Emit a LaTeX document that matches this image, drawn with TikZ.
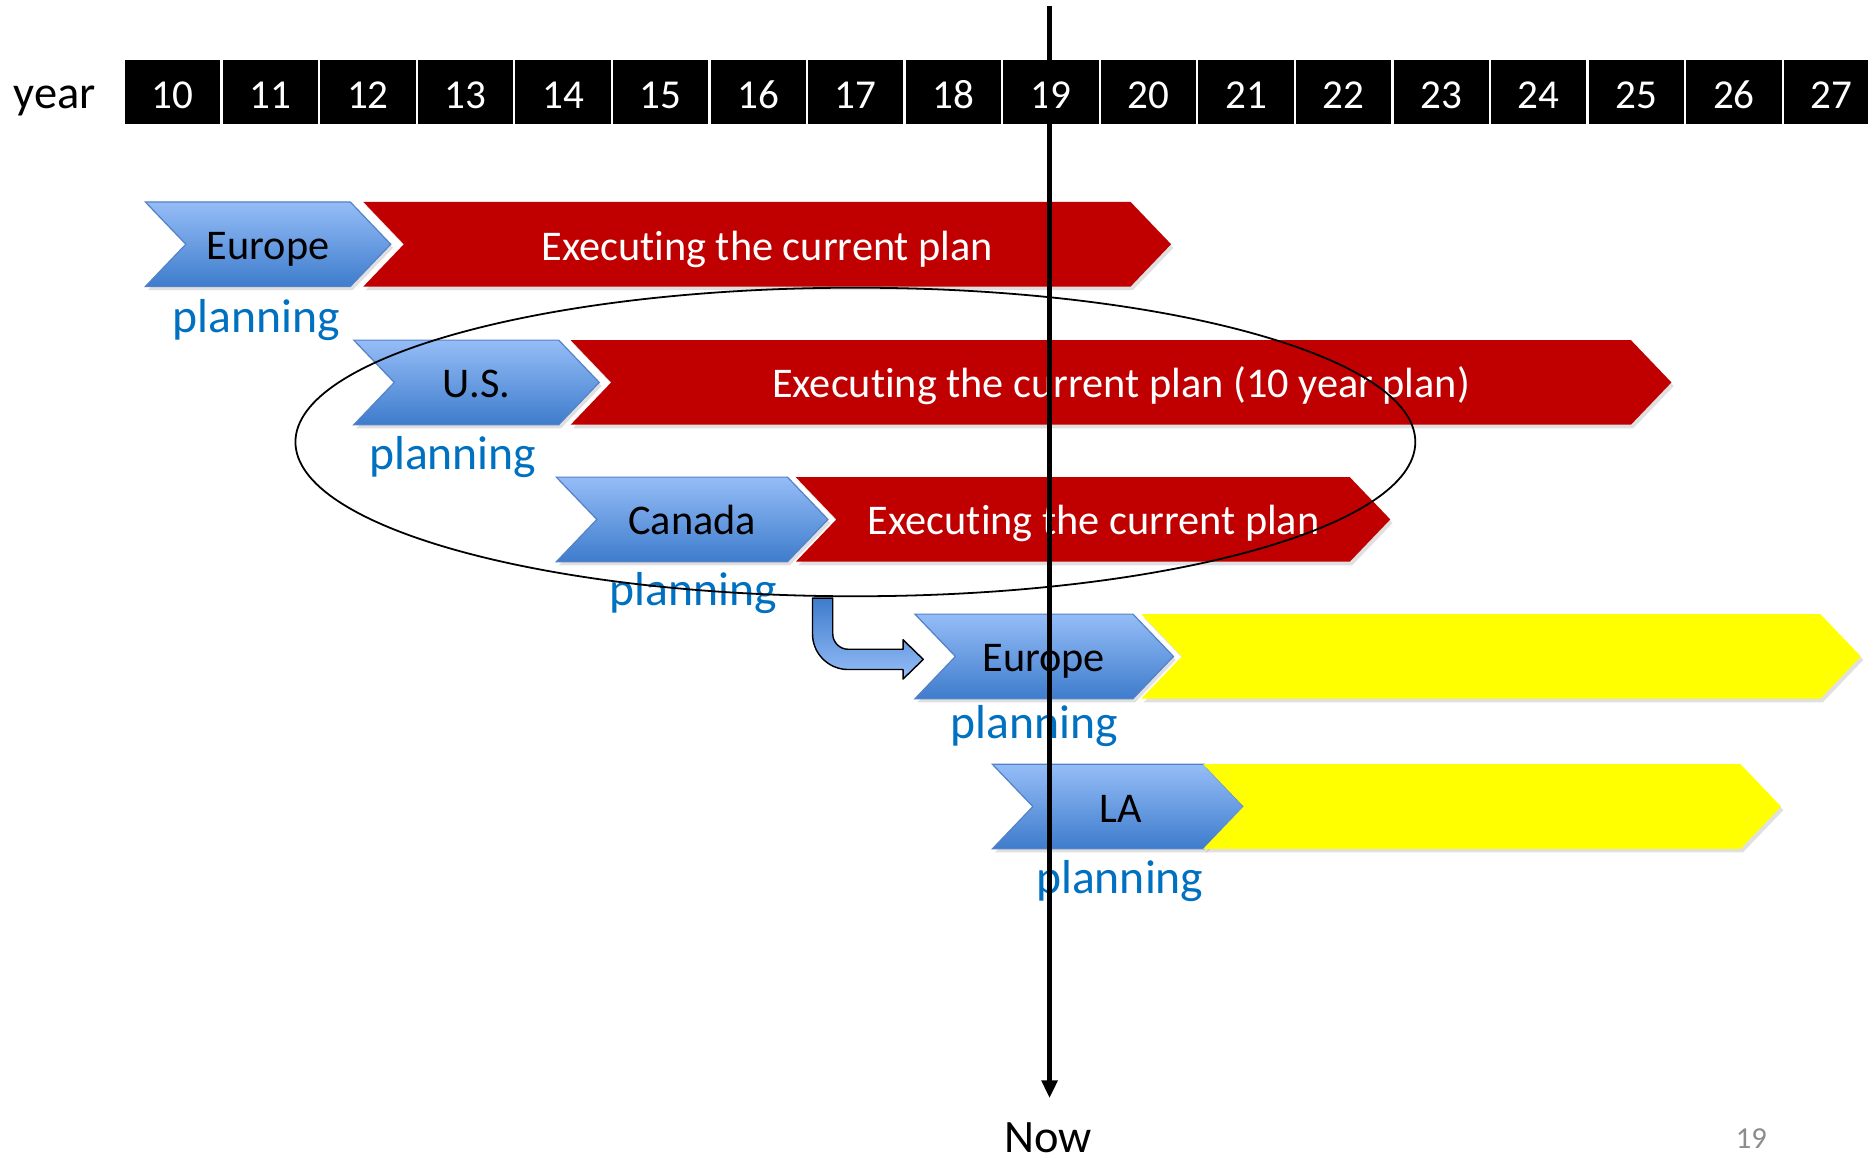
\documentclass[tikz,border=0pt]{standalone}
\usepackage{fontspec}
\setmainfont{Carlito}[Ligatures=CommonOff]
\usetikzlibrary{arrows.meta,shapes.geometric}
\definecolor{chevred}{RGB}{192,0,0}
\definecolor{chevyel}{RGB}{255,255,0}
\definecolor{bluetop}{RGB}{149,189,247}
\definecolor{bluebot}{RGB}{62,124,204}
\definecolor{blueedge}{RGB}{84,130,200}
\definecolor{planblue}{RGB}{0,112,192}
\definecolor{pagegray}{RGB}{140,140,140}
% #1 style, #2 left x, #3 tip x, #4 centre y
\newcommand\chevshape[4]{%
  \begin{scope}[shift={(2,3)}]
    \fill[black,opacity=0.12] (#2,#4-35.5) -- (#3-34,#4-35.5) -- (#3,#4) -- (#3-34,#4+35.5) -- (#2,#4+35.5) -- (#2+34,#4) -- cycle;
  \end{scope}
  \path[#1] (#2,#4-35.5) -- (#3-34,#4-35.5) -- (#3,#4) -- (#3-34,#4+35.5) -- (#2,#4+35.5) -- (#2+34,#4) -- cycle;}
\tikzset{
  lbl/.style={anchor=base, font=\fontsize{35.5}{40}\selectfont, inner sep=0pt},
  wlbl/.style={lbl, text=white},
  plan/.style={anchor=base, font=\fontsize{40}{46}\selectfont, text=planblue, inner sep=0pt},
  bluechev/.style={top color=bluetop, bottom color=bluebot, draw=blueedge, line width=1pt},
  redchev/.style={fill=chevred},
  yelchev/.style={fill=chevyel},
  yearcell/.style={fill=black, minimum width=80pt, minimum height=54pt, inner sep=0pt},
  yeartext/.style={anchor=base, text=white, font=\fontsize{34.5}{40}\selectfont, inner sep=0pt},
  bigtext/.style={anchor=base, font=\fontsize{39}{45}\selectfont, inner sep=0pt},
  bendarrow/.style={top color=bluebot, bottom color=bluetop, draw=black, line width=1.2pt, line join=round},
  nowline/.style={line width=4pt, -{Triangle[length=15pt,width=13pt]}},
  group/.style={draw, ellipse, line width=1.5pt, minimum width=940pt, minimum height=259pt, inner sep=0pt}
}
\begin{document}
\begin{tikzpicture}[x=1pt,y=-1pt]
\useasboundingbox (0,0) rectangle (1568,974);
\clip (0,0) rectangle (1568,974);
% year bar
\node[bigtext] (yearlbl) at (46,91) {year};
\foreach \i in {0,...,17} {
  \pgfmathtruncatemacro\yr{10+\i}
  \node[yearcell] (c\yr) at ({145+81.9*\i},77) {};
  \node[yeartext] (t\yr) at ({145+81.9*\i},91) {\yr};
}
% row 1
\chevshape{bluechev}{122}{328}{205}
\chevshape{redchev}{305}{983}{205}
\node[lbl] (eu1) at (225,218) {Europe};
\node[wlbl] (ex1) at (644,219) {Executing the current plan};
\node[plan] (pl1) at (215,279) {planning};
% row 2
\chevshape{bluechev}{297}{503}{321}
\chevshape{redchev}{479}{1403}{321}
\node[lbl] (us) at (400,334) {U.S.};
\node[wlbl] (ex2) at (941,334) {Executing the current plan (10 year plan)};
\node[plan] (pl2) at (380,394) {planning};
% row 3
\chevshape{bluechev}{467}{695}{436}
\chevshape{redchev}{668}{1167}{436}
\node[lbl] (ca) at (581,449) {Canada};
\node[wlbl] (ex3) at (918,449) {Executing the current plan};
\node[plan] (pl3) at (582,508) {planning};
% row 4
\chevshape{bluechev}{768}{985}{551}
\chevshape{yelchev}{958}{1562}{551}
\node[lbl] (eu2) at (876,564) {Europe};
\node[plan] (pl4) at (868,620) {planning};
% row 5
\chevshape{bluechev}{833}{1045}{677}
\chevshape{yelchev}{1010}{1495}{677}
\node[lbl] (la) at (941,690) {LA};
\node[plan] (pl5) at (940,750) {planning};
% grouping ellipse
\node[group] (grp) at (718,371) {};
% bent arrow
\path[bendarrow] (682,502) -- (699,502) -- (699,532) .. controls (699,539.2) and (704.8,545) .. (712,545)
  -- (758,545) -- (758,537) -- (775,553.5) -- (758,570) -- (758,562) -- (712,562)
  .. controls (695.4,562) and (682,548.6) .. (682,532) -- cycle;
% now line
\node[bigtext] (now) at (880,967) {Now};
\coordinate (nowtop) at (881,5);
\draw[nowline, shorten >=20pt] (nowtop) -- (nowtop |- now.north);
% page number
\node[anchor=base, text=pagegray, font=\fontsize{25.6}{30}\selectfont, inner sep=0pt] (pg) at (1470,964) {19};
\end{tikzpicture}
\end{document}
